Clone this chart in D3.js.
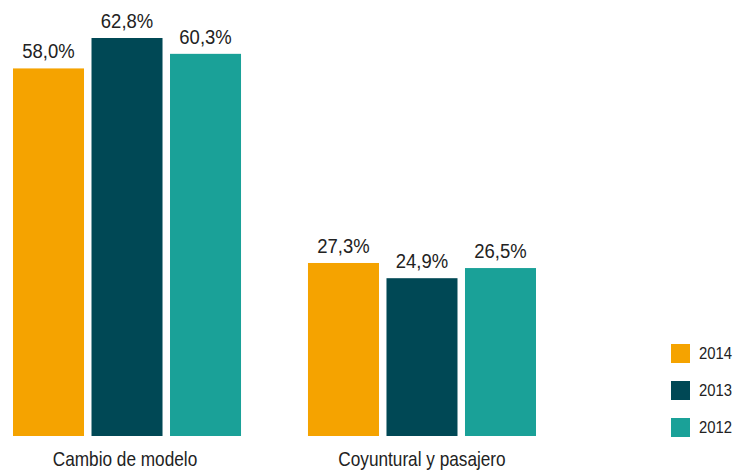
<!DOCTYPE html>
<html>
<head>
<meta charset="utf-8">
<script src="https://cdn.jsdelivr.net/npm/d3@7"></script>
<style>
  body { margin: 0; background: #fff; }
  text { font-family: "Liberation Sans", Arial, sans-serif; fill: #222; }
</style>
</head>
<body>
<div id="chart"></div>
<script>
var categories = ["Cambio de modelo", "Coyuntural y pasajero"]
var years = ["2014", "2013", "2012"]
var values2014 = [58.0, 27.3]
var values2013 = [62.8, 24.9]
var values2012 = [60.3, 26.5]
var colors = ["#F5A300", "#004855", "#1AA198"]

var width = 738, height = 470
var baseline = 436

var svg = d3.select("#chart")
  .append("svg")
  .attr("width", width)
  .attr("height", height)

var series = [values2014, values2013, values2012]

var x0 = d3.scaleBand()
  .domain(categories)
  .range([13, 536])
  .paddingInner(0.227)
  .paddingOuter(0)

var x1 = d3.scaleBand()
  .domain(years)
  .range([0, x0.bandwidth()])
  .paddingInner(0.0955)
  .paddingOuter(0)

var y = d3.scaleLinear()
  .domain([0, 62.8])
  .range([baseline, 38])

var color = d3.scaleOrdinal().domain(years).range(colors)

var fmt = d => d.toFixed(1).replace(".", ",") + "%"

// the original font is a condensed grotesque, squeeze Liberation Sans to match
var squeeze = (x, yy, s) => "translate(" + x + "," + yy + ") scale(" + s + ",1)"

var groups = svg.selectAll(".group")
  .data(categories)
  .enter()
  .append("g")
  .attr("class", "group")
  .attr("transform", d => "translate(" + x0(d) + ",0)")

var cells = (d, i) => years.map((yr, j) => ({ year: yr, value: series[j][i] }))

groups.selectAll("rect")
  .data(cells)
  .enter()
  .append("rect")
  .attr("x", d => x1(d.year))
  .attr("y", d => y(d.value))
  .attr("width", x1.bandwidth())
  .attr("height", d => baseline - y(d.value))
  .attr("fill", d => color(d.year))

groups.selectAll(".val")
  .data(cells)
  .enter()
  .append("text")
  .attr("class", "val")
  .attr("transform", d => squeeze(x1(d.year) + x1.bandwidth() / 2, y(d.value) - 10, 0.88))
  .attr("text-anchor", "middle")
  .style("font-size", "21px")
  .text(d => fmt(d.value))

// category labels
groups.append("text")
  .attr("transform", (d, i) => squeeze(x0.bandwidth() / 2 - (i == 0 ? 2 : 0), 466, 0.82))
  .attr("text-anchor", "middle")
  .style("font-size", "21px")
  .text(d => d)

// legend
var legend = svg.selectAll(".legend")
  .data(years)
  .enter()
  .append("g")
  .attr("class", "legend")
  .attr("transform", (d, i) => "translate(671," + (344 + i * 37) + ")")

legend.append("rect")
  .attr("width", 19)
  .attr("height", 19)
  .attr("fill", d => color(d))

legend.append("text")
  .attr("transform", squeeze(28, 15, 0.9))
  .style("font-size", "16.5px")
  .text(d => d)
</script>
</body>
</html>
